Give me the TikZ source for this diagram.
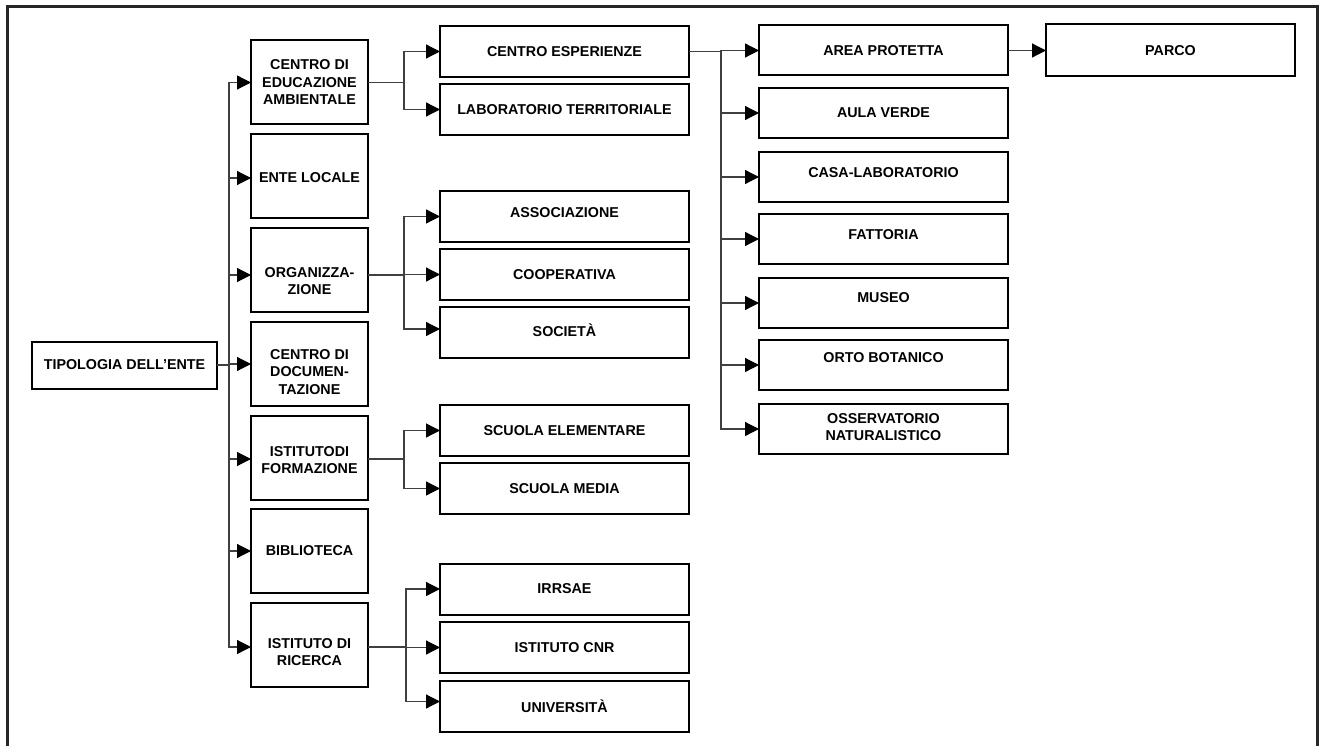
\documentclass[tikz,border=0pt]{standalone}
\usepackage{fontspec}
\setmainfont{Liberation Sans}
\usetikzlibrary{arrows.meta}
\begin{document}
\begin{tikzpicture}[x=1pt,y=-1pt,
  every node/.style={font=\fontsize{14.3}{17.5}\selectfont\bfseries},
  box/.style={draw=black, line width=2pt, inner sep=0pt, outer sep=0pt, align=center},
  rootbox/.style={box, minimum width=185pt, minimum height=47pt},
  lone/.style={box, minimum width=117pt, minimum height=84pt},
  ltwo/.style={box, minimum width=249pt, minimum height=51pt},
  lthree/.style={box, minimum width=249pt, minimum height=50pt},
  txt/.style={align=center, inner sep=0pt},
  link/.style={line width=1.2pt, draw=black!75},
  arr/.style={link, -{Triangle[length=14pt,width=14pt,color=black]}},
]
\useasboundingbox (0,0) rectangle (1321,746);
% outer frame (open at the bottom edge of the page)
\draw[line width=3pt, draw=black!85] (7,7) rectangle (1317.5,770);

% root
\node[rootbox] (tip) at (124.5,365) {TIPOLOGIA DELL’ENTE};

% first level
\node[lone] (cea) at (309.5,82.5) {CENTRO DI\\EDUCAZIONE\\AMBIENTALE};
\node[lone, label={[txt,yshift=-2pt]center:ENTE LOCALE}] (loc) at (309.5,176) {};
\node[lone, label={[txt,yshift=-11.5pt]center:{ORGANIZZA-\\ZIONE}}] (org) at (309.5,269.5) {};
\node[lone, label={[txt,yshift=-8pt]center:{CENTRO DI\\DOCUMEN-\\TAZIONE}}] (doc) at (309.5,364) {};
\node[lone, label={[txt,yshift=-2.5pt]center:{ISTITUTODI\\FORMAZIONE}}] (frm) at (309.5,457.5) {};
\node[lone] (bib) at (309.5,551) {BIBLIOTECA};
\node[lone, label={[txt,yshift=-7pt]center:{ISTITUTO DI\\RICERCA}}] (ric) at (309.5,645) {};

% second level
\node[ltwo] (ce)   at (564.5,51.5)  {CENTRO ESPERIENZE};
\node[ltwo] (lt)   at (564.5,109.5) {LABORATORIO TERRITORIALE};
\node[ltwo, label={[txt,yshift=4pt]center:ASSOCIAZIONE}] (ass) at (564.5,216.5) {};
\node[ltwo] (coop) at (564.5,274.5) {COOPERATIVA};
\node[ltwo, label={[txt,yshift=2pt]center:SOCIETÀ}] (soc) at (564.5,332.5) {};
\node[ltwo] (se)   at (564.5,430.5) {SCUOLA ELEMENTARE};
\node[ltwo] (sm)   at (564.5,488.5) {SCUOLA MEDIA};
\node[ltwo] (irr)  at (564.5,589)   {IRRSAE};
\node[ltwo] (cnr)  at (564.5,647.5) {ISTITUTO CNR};
\node[ltwo] (uni)  at (564.5,706.5) {UNIVERSITÀ};

% third level
\node[lthree] (ap) at (883.5,50.5) {AREA PROTETTA};
\node[lthree] (av) at (883.5,113)  {AULA VERDE};
\node[lthree, label={[txt,yshift=4pt]center:CASA-LABORATORIO}] (cl) at (883.5,177) {};
\node[lthree, label={[txt,yshift=4pt]center:FATTORIA}] (fa) at (883.5,239) {};
\node[lthree, label={[txt,yshift=5.5pt]center:MUSEO}] (mu) at (883.5,303) {};
\node[lthree, label={[txt,yshift=7pt]center:ORTO BOTANICO}] (ob) at (883.5,365) {};
\node[lthree, label={[txt,yshift=2pt]center:{OSSERVATORIO\\NATURALISTICO}}] (os) at (883.5,429) {};

% fourth level
\node[box, minimum width=249pt, minimum height=52pt] (parco) at (1170.5,50.5) {PARCO};

% branch columns
\coordinate (b0) at (229,0);
\coordinate (b1) at (404,0);
\coordinate (b2) at (406,0);
\coordinate (b3) at (721,0);

% root to first level
\draw[link] (tip.east) -- (tip.east -| b0);
\foreach \n/\d in {cea/0,loc/2,org/5.5,doc/0,frm/1.5,bib/0,ric/2}
  \draw[arr] (tip.east -| b0) |- ([yshift=-\d pt]\n.west);

% first level to second level
\draw[link] (cea.east) -- (cea.east -| b1);
\foreach \n in {ce,lt}
  \draw[arr] (cea.east -| b1) |- (\n.west);

\draw[link] ([yshift=-5.5pt]org.east) -- ([yshift=-5.5pt]org.east -| b1);
\foreach \n/\d in {ass/0,coop/0,soc/3.5}
  \draw[arr] ([yshift=-5.5pt]org.east -| b1) |- ([yshift=\d pt]\n.west);

\draw[link] ([yshift=-1.5pt]frm.east) -- ([yshift=-1.5pt]frm.east -| b1);
\foreach \n in {se,sm}
  \draw[arr] ([yshift=-1.5pt]frm.east -| b1) |- (\n.west);

\draw[link] ([yshift=-2pt]ric.east) -- ([yshift=-2pt]ric.east -| b2);
\foreach \n/\d in {irr/0,cnr/0,uni/5}
  \draw[arr] ([yshift=-2pt]ric.east -| b2) |- ([yshift=\d pt]\n.west);

% second level to third level
\draw[link] (ce.east) -- (ce.east -| b3);
\foreach \n in {ap,av,cl,fa,mu,ob,os}
  \draw[arr] (ce.east -| b3) |- (\n.west);

% third level to fourth level
\draw[arr] (ap.east) -- (parco.west);
\end{tikzpicture}
\end{document}
